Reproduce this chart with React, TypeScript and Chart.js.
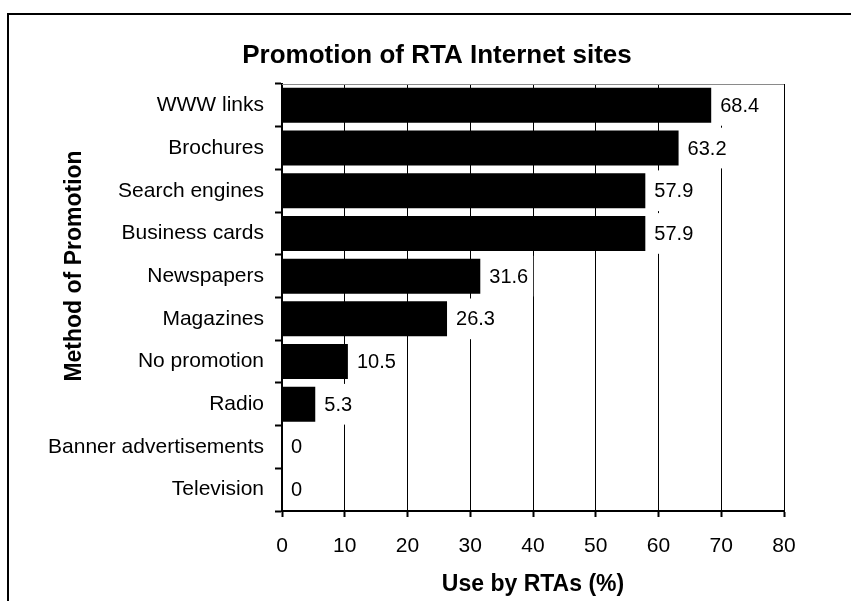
import React, { useEffect, useRef } from "react";
import { Chart, registerables } from "chart.js";

Chart.register(...registerables);

const chartTitle = "Promotion of RTA Internet sites";
const xAxisTitle = "Use by RTAs (%)";
const yAxisTitle = "Method of Promotion";

const categories = [
  "WWW links",
  "Brochures",
  "Search engines",
  "Business cards",
  "Newspapers",
  "Magazines",
  "No promotion",
  "Radio",
  "Banner advertisements",
  "Television",
];
const values = [68.4, 63.2, 57.9, 57.9, 31.6, 26.3, 10.5, 5.3, 0, 0];
const valueLabels = ["68.4", "63.2", "57.9", "57.9", "31.6", "26.3", "10.5", "5.3", "0", "0"];
const xMin = 0;
const xMax = 80;
const xStep = 10;

const FONT = '"Liberation Sans", Arial, Helvetica, sans-serif';

const decorPlugin = {
  id: "decor",
  beforeDraw(chart: any) {
    const ctx = chart.ctx;
    ctx.save();
    ctx.fillStyle = "#ffffff";
    ctx.fillRect(0, 0, chart.width, chart.height);
    // outer frame
    ctx.strokeStyle = "#000";
    ctx.lineWidth = 2;
    ctx.beginPath();
    ctx.moveTo(8, chart.height + 4);
    ctx.lineTo(8, 14);
    ctx.lineTo(chart.width + 4, 14);
    ctx.stroke();
    // chart title
    ctx.fillStyle = "#000";
    ctx.font = `bold 26px ${FONT}`;
    ctx.textAlign = "center";
    ctx.textBaseline = "middle";
    ctx.fillText(chartTitle, 437, 56);
    // y axis title
    ctx.translate(75, 266);
    ctx.rotate(-Math.PI / 2);
    ctx.font = `bold 23px ${FONT}`;
    ctx.fillText(yAxisTitle, 0, 0);
    ctx.restore();
  },
  afterDatasetsDraw(chart: any) {
    const ctx = chart.ctx;
    const meta = chart.getDatasetMeta(0);
    const yScale = chart.scales.y;
    const catH = yScale.height / categories.length;
    ctx.save();
    ctx.font = `20px ${FONT}`;
    ctx.textAlign = "left";
    ctx.textBaseline = "middle";
    meta.data.forEach((bar: any, i: number) => {
      const { x, y } = bar.getProps(["x", "y"], true);
      const text = valueLabels[i];
      const w = ctx.measureText(text).width;
      ctx.fillStyle = "#fff";
      ctx.fillRect(x + 9, y - catH / 2 + 1, w + 5, catH - 2);
      ctx.fillStyle = "#000";
      ctx.fillText(text, x + 9, y + 1);
    });
    ctx.restore();
  },
  afterDraw(chart: any) {
    const ctx = chart.ctx;
    const a = chart.chartArea;
    ctx.save();
    ctx.strokeStyle = "#8a8a8a";
    ctx.lineWidth = 1;
    ctx.beginPath();
    ctx.moveTo(a.left, Math.round(a.top) + 0.5);
    ctx.lineTo(a.right, Math.round(a.top) + 0.5);
    ctx.stroke();
    ctx.restore();
  },
};

export default function App() {
  const ref = useRef<HTMLCanvasElement>(null);

  useEffect(() => {
    if (!ref.current) return;
    const chart = new Chart(ref.current, {
      type: "bar",
      data: {
        labels: categories,
        datasets: [
          {
            data: values,
            backgroundColor: "#000",
            borderWidth: 0,
            barPercentage: 0.82,
            categoryPercentage: 1,
          },
        ],
      },
      options: {
        indexAxis: "y",
        responsive: false,
        animation: false,
        devicePixelRatio: 1,
        layout: { padding: { left: 0, right: 67, top: 84, bottom: 0 } },
        plugins: {
          legend: { display: false },
          title: { display: false },
          tooltip: { enabled: false },
        },
        scales: {
          x: {
            type: "linear",
            min: xMin,
            max: xMax,
            ticks: {
              stepSize: xStep,
              color: "#000",
              font: { family: FONT, size: 21 },
              padding: 17,
            },
            grid: {
              color: "#000",
              lineWidth: 1,
              tickLength: 6,
              tickWidth: 2,
              tickColor: "#000",
            },
            border: { display: true, color: "#000", width: 2 },
            title: {
              display: true,
              text: xAxisTitle,
              color: "#000",
              font: { family: FONT, size: 23, weight: "bold" },
              padding: { top: 0, bottom: 3 },
            },
            afterFit: (scale: any) => {
              scale.height = 90;
            },
          },
          y: {
            type: "category",
            ticks: {
              color: "#000",
              font: { family: FONT, size: 21 },
              padding: 11,
            },
            grid: {
              drawOnChartArea: false,
              offset: true,
              tickLength: 7,
              tickWidth: 2,
              tickColor: "#000",
              color: "#000",
            },
            border: { display: true, color: "#000", width: 2 },
            afterFit: (scale: any) => {
              scale.width = 282;
            },
          },
        },
      },
      plugins: [decorPlugin],
    } as any);
    return () => chart.destroy();
  }, []);

  return (
    <div style={{ position: "absolute", left: 0, top: 0, width: 851, height: 601 }}>
      <canvas ref={ref} width={851} height={601} style={{ display: "block" }} />
    </div>
  );
}
